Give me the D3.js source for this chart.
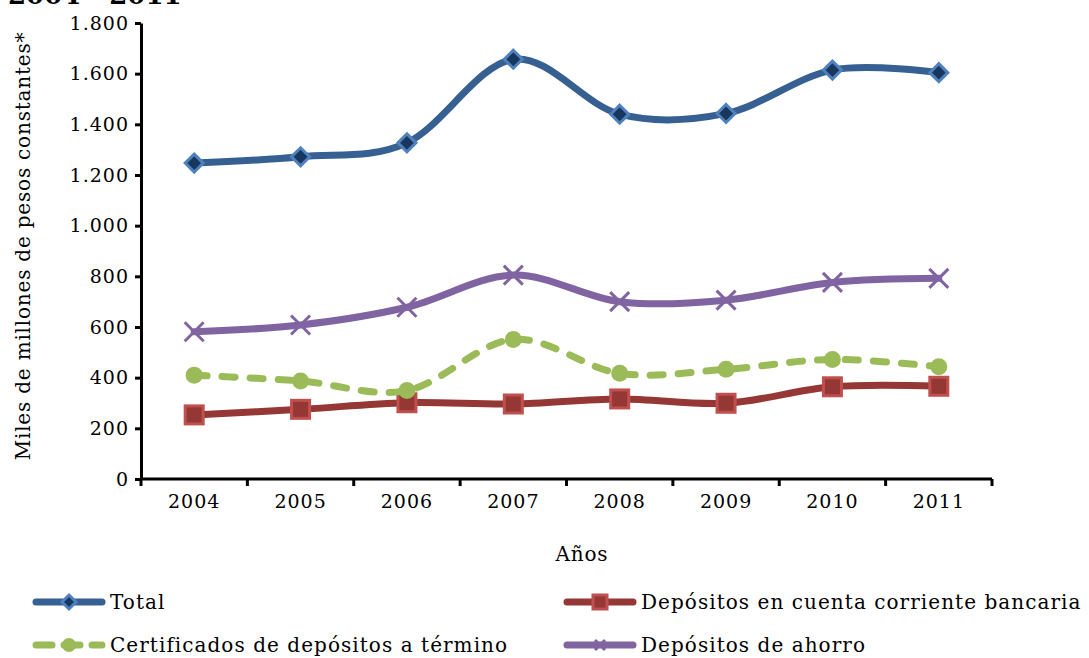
<!DOCTYPE html>
<html>
<head>
<meta charset="utf-8">
<script src="https://cdn.jsdelivr.net/npm/d3@7"></script>
<style>
  html, body { margin: 0; padding: 0; background: #fff; }
  svg { display: block; }
  text { font-family: "DejaVu Serif", serif; fill: #000; }
</style>
</head>
<body>
<svg id="chart" width="1089" height="658"></svg>
<script>
const years = ["2004", "2005", "2006", "2007", "2008", "2009", "2010", "2011"];
const total = [1247, 1272, 1327, 1657, 1440, 1443, 1614, 1604];
const cuentaCorriente = [253, 275, 301, 296, 316, 299, 364, 366];
const certificados = [410, 387, 349, 551, 417, 433, 472, 443];
const ahorro = [581, 608, 678, 805, 700, 706, 776, 792];
const yTicks = [0, 200, 400, 600, 800, 1000, 1200, 1400, 1600, 1800];
const seriesNames = ["Total", "Depósitos en cuenta corriente bancaria", "Certificados de depósitos a término", "Depósitos de ahorro"];

(function () {
const fmt = v => d3.format(",")(v).replace(/,/g, ".");

const svg = d3.select("#chart");
const mLeft = 141, mRight = 992, mTop = 23, mBottom = 479;

const x = d3.scaleBand().domain(years).range([mLeft, mRight]);
const y = d3.scaleLinear().domain([0, 1800]).range([mBottom, mTop]);
const cx = d => x(d) + x.bandwidth() / 2;

// Title (cropped at top, as in the reference)
svg.append("text").attr("x", 8).attr("y", 4)
  .style("font-weight", "bold").style("font-size", "26px")
  .text("2004 - 2011");

// Axes
const yAxis = svg.append("g").attr("transform", `translate(${mLeft},0)`)
  .call(d3.axisLeft(y).tickValues(yTicks).tickFormat(fmt).tickSize(6).tickSizeOuter(0));
const xAxis = svg.append("g").attr("transform", `translate(0,${mBottom})`)
  .call(d3.axisBottom(x).tickSize(0).tickSizeOuter(0));
[yAxis, xAxis].forEach(g => {
  g.select(".domain").attr("stroke", "#000").attr("stroke-width", 3);
  g.selectAll("text").style("font-family", "DejaVu Serif").style("font-size", "19px")
    .style("letter-spacing", "1px");
});
yAxis.selectAll(".tick line").attr("stroke", "#000").attr("stroke-width", 3).attr("x2", -6);
yAxis.selectAll(".tick text").attr("x", -12);
xAxis.select(".domain").attr("d", `M${mLeft},0H${mRight}`);
xAxis.selectAll(".tick text").attr("y", 16).attr("dy", "0.71em");
const bounds = years.map(d => x(d)).concat([mRight]);
xAxis.selectAll(".bt").data(bounds).enter().append("line")
  .attr("x1", d => d).attr("x2", d => d).attr("y1", 0).attr("y2", 7)
  .attr("stroke", "#000").attr("stroke-width", 3);

// Axis titles
svg.append("text").attr("x", 582).attr("y", 561).attr("text-anchor", "middle")
  .style("font-size", "20px").style("letter-spacing", "0.8px").text("Años");
svg.append("text").attr("transform", "translate(30,246) rotate(-90)")
  .attr("text-anchor", "middle").style("font-size", "20px").style("letter-spacing", "0.8px")
  .text("Miles de millones de pesos constantes*");

const line = d3.line().x((d, i) => cx(years[i])).y(d => y(d)).curve(d3.curveCardinal.tension(0));

const series = [
  { name: seriesNames[0], data: total, color: "#376092", dash: null, marker: "diamond", mFill: "#17375e", mStroke: "#4f81bd" },
  { name: seriesNames[1], data: cuentaCorriente, color: "#953735", dash: null, marker: "square", mFill: "#953735", mStroke: "#c0504d" },
  { name: seriesNames[2], data: certificados, color: "#9bbb59", dash: "13,15", marker: "circle", mFill: "#9bbb59", mStroke: "#9bbb59" },
  { name: seriesNames[3], data: ahorro, color: "#8064a2", dash: null, marker: "x", mFill: "none", mStroke: "#8064a2" }
];

function drawMarker(g, type, px, py, s) {
  if (type === "diamond") {
    g.append("path").attr("d", `M${px},${py - 9}L${px + 9},${py}L${px},${py + 9}L${px - 9},${py}Z`)
      .attr("fill", s.mFill).attr("stroke", s.mStroke).attr("stroke-width", 3);
  } else if (type === "square") {
    g.append("rect").attr("x", px - 9).attr("y", py - 9).attr("width", 18).attr("height", 18)
      .attr("fill", s.mFill).attr("stroke", s.mStroke).attr("stroke-width", 3);
  } else if (type === "circle") {
    g.append("circle").attr("cx", px).attr("cy", py).attr("r", 8.5).attr("fill", s.mFill);
  } else if (type === "x") {
    g.append("path").attr("d", `M${px - 9.5},${py - 9.5}L${px + 9.5},${py + 9.5}M${px + 9.5},${py - 9.5}L${px - 9.5},${py + 9.5}`)
      .attr("stroke", s.mStroke).attr("stroke-width", 3).attr("fill", "none");
  }
}

[1, 2, 3, 0].forEach(i => {
  const s = series[i];
  const g = svg.append("g");
  g.append("path").datum(s.data).attr("d", line)
    .attr("fill", "none").attr("stroke", s.color).attr("stroke-width", 7)
    .attr("stroke-linecap", "round").attr("stroke-dasharray", s.dash);
  s.data.forEach((v, j) => drawMarker(g, s.marker, cx(years[j]), y(v), s));
});

// Legend
const legendPos = [
  { x: 36, y: 602 }, { x: 567, y: 602 }, { x: 36, y: 645 }, { x: 567, y: 645 }
];
series.forEach((s, i) => {
  const p = legendPos[i];
  const g = svg.append("g");
  g.append("line").attr("x1", p.x).attr("x2", p.x + 66).attr("y1", p.y).attr("y2", p.y)
    .attr("stroke", s.color).attr("stroke-width", 7).attr("stroke-linecap", "round")
    .attr("stroke-dasharray", s.dash ? "16,12" : null);
  const mx = p.x + 33;
  if (s.marker === "diamond") {
    g.append("path").attr("d", `M${mx},${p.y - 7}L${mx + 7},${p.y}L${mx},${p.y + 7}L${mx - 7},${p.y}Z`)
      .attr("fill", s.mFill).attr("stroke", s.mStroke).attr("stroke-width", 3);
  } else if (s.marker === "square") {
    g.append("rect").attr("x", mx - 7).attr("y", p.y - 7).attr("width", 14).attr("height", 14)
      .attr("fill", s.mFill).attr("stroke", s.mStroke).attr("stroke-width", 3);
  } else if (s.marker === "circle") {
    g.append("circle").attr("cx", mx).attr("cy", p.y).attr("r", 7).attr("fill", s.mFill);
  } else {
    g.append("path").attr("d", `M${mx - 5},${p.y - 5}L${mx + 5},${p.y + 5}M${mx + 5},${p.y - 5}L${mx - 5},${p.y + 5}`)
      .attr("stroke", s.mStroke).attr("stroke-width", 3);
  }
  g.append("text").attr("x", p.x + 74).attr("y", p.y).attr("dy", "0.35em")
    .style("font-size", "20px").style("letter-spacing", "1.05px").text(s.name);
});
})();
</script>
</body>
</html>
